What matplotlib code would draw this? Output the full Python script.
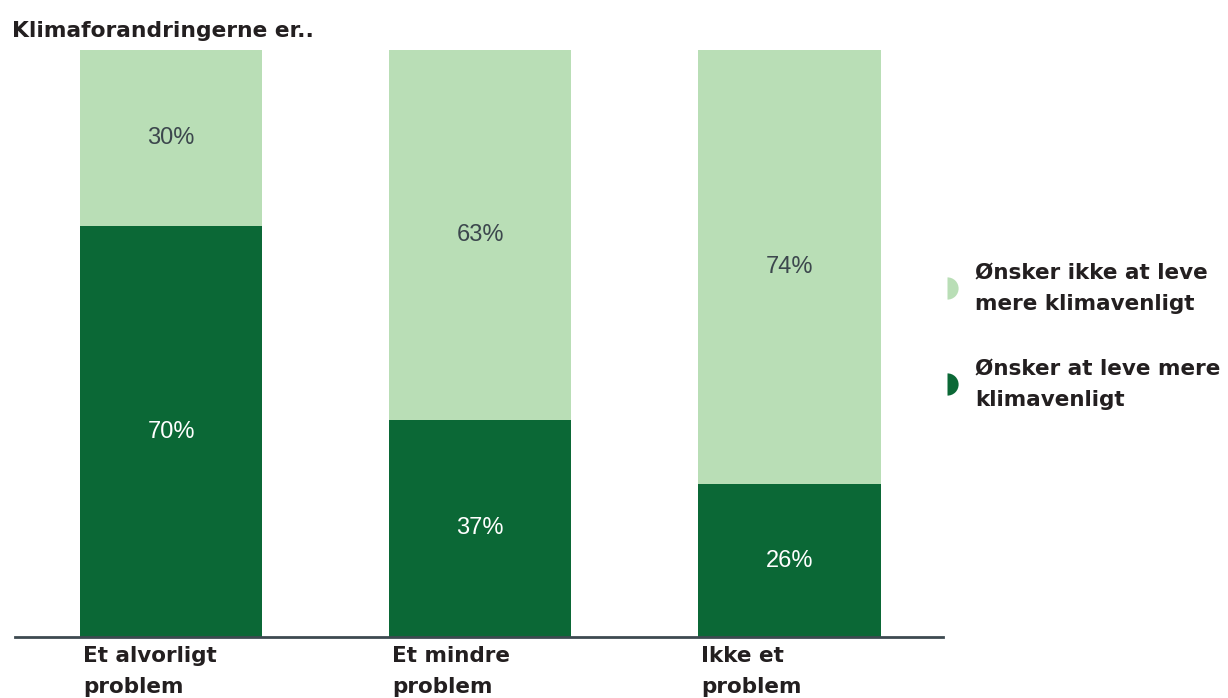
import numpy as np
import matplotlib.pyplot as plt
from matplotlib.lines import Line2D

# Data
categories = ['Et alvorligt\nproblem', 'Et mindre\nproblem', 'Ikke et\nproblem']
want_more = [70, 37, 26]
want_not = [30, 63, 74]
series_names = ['Ønsker ikke at leve\nmere klimavenligt', 'Ønsker at leve mere\nklimavenligt']
title = 'Klimaforandringerne er..'

light = '#b9deb6'
dark = '#0b6836'
text_dark = '#231f20'
label_grey = '#3c474d'
bold_font = 'DejaVu Sans'

fig = plt.figure(figsize=(12.28, 6.98), dpi=100)
W, H = 1228, 698
ax = fig.add_axes([15 / W, 1 - 637 / H, 928 / W, 587 / H])

x = np.arange(len(categories))
width = 0.59
ax.bar(x, want_more, width=width, color=dark)
ax.bar(x, want_not, width=width, bottom=want_more, color=light)

ax.set_xlim(-0.505, 2.497)
ax.set_ylim(0, 100)

for i in range(len(x)):
    ax.text(x[i], want_more[i] / 2, f'{want_more[i]}%', ha='center', va='center',
            color='white', fontsize=17, family='Liberation Sans')
    ax.text(x[i], want_more[i] + want_not[i] / 2, f'{want_not[i]}%', ha='center', va='center',
            color=label_grey, fontsize=17, family='Liberation Sans')
    ax.text(x[i] - width / 2 + 0.01, -0.015, categories[i], ha='left', va='top',
            transform=ax.get_xaxis_transform(), fontsize=15.5, fontweight='bold',
            family=bold_font, color=text_dark, linespacing=1.7)

for s in ['top', 'right', 'left']:
    ax.spines[s].set_visible(False)
ax.spines['bottom'].set_color('#3d4a50')
ax.spines['bottom'].set_linewidth(2)
ax.set_xticks([])
ax.set_yticks([])

fig.text(12 / W, 1 - 31 / H, title, ha='left', va='center', fontsize=15.7,
         fontweight='bold', family=bold_font, color=text_dark)

# legend (half circle markers)
leg_y = [288, 384]
leg_colors = [light, dark]
for yy, col, name in zip(leg_y, leg_colors, series_names):
    fig.add_artist(Line2D([947 / W], [1 - yy / H], marker='o', markersize=16,
                          fillstyle='right', markerfacecolor=col, markerfacecoloralt='none',
                          markeredgewidth=0, linestyle='none', transform=fig.transFigure))
    fig.text(975 / W, 1 - yy / H, name, ha='left', va='center', fontsize=15.5,
             fontweight='bold', family=bold_font, color=text_dark, linespacing=1.7)

fig.savefig('out.png', dpi=100)
